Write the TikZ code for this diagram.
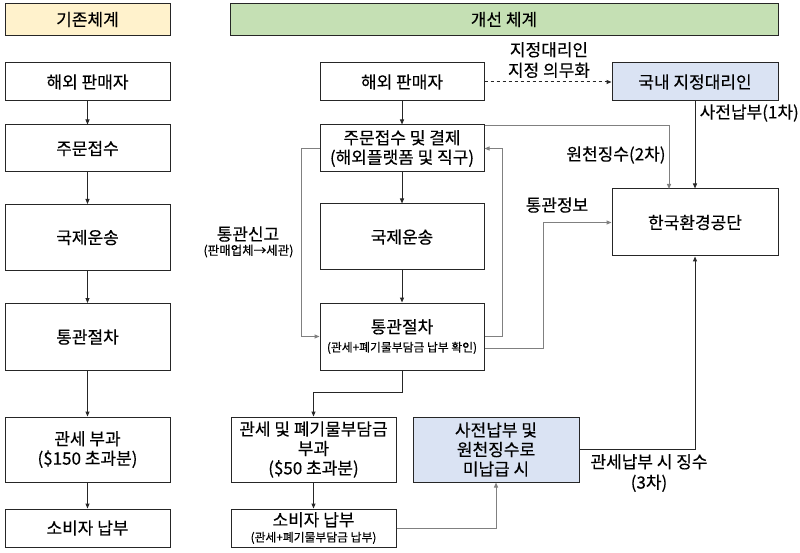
\documentclass[tikz,border=0pt]{standalone}
\usepackage{fontspec}
\setmainfont{Noto Sans CJK KR}[FakeBold=0.3]
\usetikzlibrary{arrows.meta,calc}
\definecolor{hdrY}{HTML}{FFF2CC}
\definecolor{hdrG}{HTML}{C5E0B4}
\definecolor{boxB}{HTML}{DAE3F3}
\definecolor{lnG}{HTML}{808080}
\newcommand\smtxt{\fontsize{11.8}{14}\selectfont}
\tikzset{
  x=1pt,y=-1pt,
  box/.style={draw=black!85,line width=1pt,align=center,inner sep=0pt,
    font=\fontsize{17}{19.5}\selectfont},
  w165/.style={minimum width=165pt},
  bk/.style={draw=black!85,line width=1pt,-{Triangle[length=5pt,width=4pt]}},
  gy/.style={draw=lnG,line width=1pt,-{Triangle[length=5pt,width=4pt]}},
  lbl/.style={font=\fontsize{17}{20.5}\selectfont,align=center,inner sep=0pt},
}
\begin{document}
\begin{tikzpicture}
\useasboundingbox (0,0) rectangle (800,553);
\fill[white] (0,0) rectangle (800,553);
% headers
\node[box,fill=hdrY,minimum width=165pt,minimum height=32pt] (lh) at (87.5,19.5) {기존체계};
\node[box,fill=hdrG,minimum width=548pt,minimum height=32pt] (rh) at (504,19.5) {개선 체계};
% left column
\node[box,w165,minimum height=38pt] (l1) at (87.5,82) {해외 판매자};
\node[box,w165,minimum height=47pt] (l2) at (87.5,148.5) {주문접수};
\node[box,w165,minimum height=66pt] (l3) at (87.5,237.5) {국제운송};
\node[box,w165,minimum height=67pt] (l4) at (87.5,337) {통관절차};
\node[box,w165,minimum height=65pt] (l5) at (87.5,449.5) {관세 부과\\(\$150 초과분)};
\node[box,w165,minimum height=38pt] (l6) at (87.5,528) {소비자 납부};
\foreach \a/\b in {l1/l2,l2/l3,l3/l4,l4/l5,l5/l6} \draw[bk] (\a) -- (\b);
% middle column
\node[box,minimum width=164pt,minimum height=38pt] (m1) at (402,82) {해외 판매자};
\node[box,minimum width=164pt,minimum height=47pt] (m2) at (402,148.5) {주문접수 및 결제\\(해외플랫폼 및 직구)};
\node[box,minimum width=164pt,minimum height=66pt] (m3) at (402,237) {국제운송};
\node[box,minimum width=164pt,minimum height=67pt] (m4) at (402,336.5) {통관절차\\[-1pt]{\smtxt (관세+폐기물부담금 납부 확인)}};
\node[box,w165,minimum height=65pt] (m5) at (313.5,449.5) {관세 및 폐기물부담금\\부과\\(\$50 초과분)};
\node[box,w165,minimum height=38pt] (m6) at (313.5,528) {소비자 납부\\[-4pt]{\smtxt (관세+폐기물부담금 납부)}};
\node[box,fill=boxB,minimum width=166pt,minimum height=65pt] (bl) at (496,449.5) {사전납부 및\\원천징수로\\미납급 시};
\node[box,fill=boxB,minimum width=166pt,minimum height=38pt] (ag) at (695,82) {국내 지정대리인};
\node[box,minimum width=166pt,minimum height=67pt] (ke) at (695,222.5) {한국환경공단};
% middle flow
\draw[bk] (m1) -- (m2);
\draw[bk] (m2) -- (m3);
\draw[bk] (m3) -- (m4);
\draw[bk] (m4.south) -- ++(0,22) -| (m5.north);
\draw[bk] (m5) -- (m6);
% customs declaration loop
\draw[gy] (m2.west) -- ++(-18,0) |- (m4.west);
\draw[gy] (m4.east) -- ++(18,0) |- (m2.east);
% customs info
\coordinate (ci) at ($(m4.east)+(0,11.5)$);
\draw[gy] (ci) -- (543,348) |- (ke.west);
% withholding
\coordinate (wh) at ($(m2.north east)+(0,1.5)$);
\draw[gy] (wh) -| (669,189);
% agent
\draw[bk,dashed] (m1.east) -- (ag.west);
\draw[bk] (ag.south) -- (ke.north);
% consumer payment to blue box
\draw[gy] (m6.east) -| (bl.south);
\draw[bk] (bl.east) -| (ke.south);
% labels
\node[lbl] (t1) at (549,60) {지정대리인\\지정 의무화};
\node[lbl,anchor=east] (t2) at (799,113) {사전납부(1차)};
\node[lbl] (t3) at (616,155) {원천징수(2차)};
\node[lbl] (t4) at (557,205) {통관정보};
\node[lbl] (t5) at (248,234) {통관신고};
\node[lbl,font=\fontsize{12.5}{14}\selectfont] (t6) at (248.5,251) {(판매업체→세관)};
\node[lbl] (t7) at (649,473) {관세납부 시 징수\\(3차)};
\end{tikzpicture}
\end{document}
